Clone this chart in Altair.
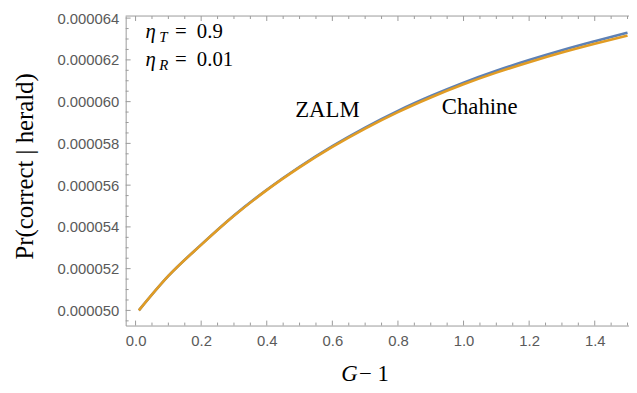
import altair as alt
import pandas as pd

# ---- data ----
g_minus_1 = [0.01, 0.1, 0.2, 0.3, 0.4, 0.5, 0.6, 0.7, 0.8, 0.9, 1.0, 1.1, 1.2, 1.3, 1.4, 1.5]
zalm = [5.000e-5, 5.165e-5, 5.315e-5, 5.455e-5, 5.578e-5, 5.688e-5, 5.787e-5, 5.876e-5,
        5.956e-5, 6.027e-5, 6.091e-5, 6.148e-5, 6.199e-5, 6.246e-5, 6.289e-5, 6.330e-5]
chahine = [5.000e-5, 5.165e-5, 5.314e-5, 5.453e-5, 5.576e-5, 5.685e-5, 5.783e-5, 5.871e-5,
           5.950e-5, 6.020e-5, 6.083e-5, 6.139e-5, 6.189e-5, 6.235e-5, 6.277e-5, 6.316e-5]
x_major = [0.0, 0.2, 0.4, 0.6, 0.8, 1.0, 1.2, 1.4]
y_major = [0.000050, 0.000052, 0.000054, 0.000056, 0.000058, 0.000060, 0.000062, 0.000064]
x_minor = [round(i * 0.05, 2) for i in range(0, 31) if i % 4 != 0]
y_minor = [round(4.95e-5 + i * 0.5e-6, 12) for i in range(0, 30) if i % 4 != 1]

W, H = 509, 313
BLUE, ORANGE = "#5e81b5", "#e19c24"
AX = "#9a9a9a"
SERIF = "Liberation Serif"

xs = alt.Scale(domain=[-0.0302, 1.5045], nice=False, zero=False)
ys = alt.Scale(domain=[4.9275e-5, 6.41e-5], nice=False, zero=False)
xax = alt.Axis(values=x_major, format=".1f", ticks=False, grid=False, title=None,
               labelPadding=8, labelFontSize=15, labelColor="#5a5a5a",
               labelFont="Liberation Sans", domainColor=AX)
yax = alt.Axis(values=y_major, format=".6f", ticks=False, grid=False, title=None,
               labelPadding=7, labelFontSize=15, labelColor="#5a5a5a",
               labelFont="Liberation Sans", domainColor=AX)

df_z = pd.DataFrame({"x": g_minus_1, "y": zalm})
df_c = pd.DataFrame({"x": g_minus_1, "y": chahine})

line_z = alt.Chart(df_z).mark_line(color=BLUE, strokeWidth=2.6, interpolate="monotone").encode(
    x=alt.X("x:Q", scale=xs, axis=xax), y=alt.Y("y:Q", scale=ys, axis=yax))
line_c = alt.Chart(df_c).mark_line(color=ORANGE, strokeWidth=2.6, interpolate="monotone").encode(
    x=alt.X("x:Q", scale=xs, axis=xax), y=alt.Y("y:Q", scale=ys, axis=yax))

def xticks(vals, length):
    d = pd.DataFrame({"x": vals})
    bot = alt.Chart(d).mark_rule(color=AX, strokeWidth=1).encode(
        x=alt.X("x:Q", scale=xs, axis=xax), y=alt.value(H), y2=alt.value(H - length))
    top = alt.Chart(d).mark_rule(color=AX, strokeWidth=1).encode(
        x=alt.X("x:Q", scale=xs, axis=xax), y=alt.value(0), y2=alt.value(length))
    return [bot, top]

def yticks(vals, length):
    d = pd.DataFrame({"y": vals})
    return [alt.Chart(d).mark_rule(color=AX, strokeWidth=1).encode(
        y=alt.Y("y:Q", scale=ys, axis=yax), x=alt.value(0), x2=alt.value(length))]

one = pd.DataFrame({"a": [0]})
top_frame = alt.Chart(one).mark_rule(color=AX, strokeWidth=1).encode(
    x=alt.value(0), x2=alt.value(W), y=alt.value(0))

def txt(t, x, y, size=21, style="normal", angle=0, align="left", baseline="alphabetic"):
    return alt.Chart(one).mark_text(text=t, font=SERIF, fontSize=size, fontStyle=style,
                                    color="black", align=align, baseline=baseline,
                                    angle=angle).encode(x=alt.value(x), y=alt.value(y))

texts = [
    txt("η", 20, 22, style="italic"),
    txt("T", 34, 26, size=15, style="italic"),
    txt("=", 50, 22),
    txt("0.9", 72, 22),
    txt("η", 20, 51, style="italic"),
    txt("R", 34, 55, size=15, style="italic"),
    txt("=", 50, 51),
    txt("0.01", 72, 51),
    txt("ZALM", 204, 102, size=23, align="center"),
    txt("Chahine", 358, 99, size=23, align="center"),
    txt("G", 218, 369, size=23, style="italic"),
    txt("− 1", 236, 369, size=23),
    txt("Pr(correct | herald)", -102, 152, size=25, angle=270, align="center", baseline="middle"),
]

layers = ([top_frame] + xticks(x_major, 5) + xticks(x_minor, 3) + yticks(y_major, 5)
          + yticks(y_minor, 3) + [line_z, line_c] + texts)

chart = alt.layer(*layers).properties(
    width=W, height=H,
    autosize=alt.AutoSizeParams(type="none"),
    padding={"left": 119, "top": 6, "right": 0, "bottom": 58},
).configure_view(stroke=None)

chart.save("out.html", embed_options={"renderer": "svg", "actions": False})
